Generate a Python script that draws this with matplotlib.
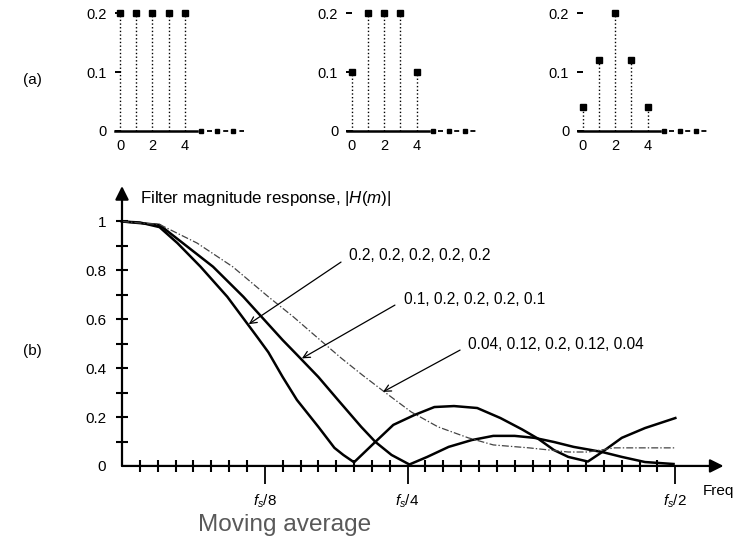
"""Moving-average filter coefficients and their magnitude responses."""

import numpy as np
import matplotlib.pyplot as plt

plt.rcParams['font.family'] = ['Liberation Sans', 'DejaVu Sans']
plt.rcParams['mathtext.fontset'] = 'custom'
plt.rcParams['mathtext.rm'] = 'Liberation Sans'
plt.rcParams['mathtext.it'] = 'Liberation Sans:italic'
plt.rcParams['lines.scale_dashes'] = False

# (a) filter coefficients, n = 0..4, then zeros
taps = [0, 1, 2, 3, 4]
tail = [5, 6, 7]
coef_rect = [0.2, 0.2, 0.2, 0.2, 0.2]
coef_taper = [0.1, 0.2, 0.2, 0.2, 0.1]
coef_gauss = [0.04, 0.12, 0.2, 0.12, 0.04]

# (b) magnitude responses
# x is in axis tick units: 8 ticks = fs/8, 16 = fs/4, 31 = fs/2 (as drawn)
freq_rect = [0, 1.0, 2.1, 3.1, 4.4, 5.9, 7.6, 8.2, 9.0, 9.8, 11.0, 11.9, 12.4,
             13.0, 14.2, 15.2, 16.4, 17.5, 18.6, 19.9, 21.2, 22.4, 23.3, 24.2,
             25.0, 26.1, 26.9, 28.0, 29.3, 31.0]
mag_rect = [1.0, 0.996, 0.977, 0.912, 0.815, 0.692, 0.525, 0.465, 0.364, 0.270,
            0.160, 0.074, 0.045, 0.015, 0.099, 0.168, 0.209, 0.241, 0.245, 0.237,
            0.196, 0.150, 0.112, 0.065, 0.037, 0.018, 0.057, 0.115, 0.155, 0.196]

freq_taper = [0, 2.1, 3.4, 5.1, 6.8, 9.0, 9.8, 11.0, 12.1, 13.4, 14.2, 15.1,
              16.1, 17.1, 18.3, 19.6, 20.8, 22.0, 23.1, 24.2, 25.3, 26.3, 26.9,
              28.0, 29.3, 30.9]
mag_taper = [1.0, 0.986, 0.912, 0.815, 0.692, 0.515, 0.455, 0.364, 0.270, 0.160,
             0.098, 0.045, 0.006, 0.037, 0.078, 0.106, 0.123, 0.123, 0.115, 0.098,
             0.078, 0.065, 0.057, 0.037, 0.016, 0.008]

freq_gauss = [0, 2.1, 4.2, 6.2, 8.2, 9.6, 11.1, 12.3, 13.5, 14.7, 16.2, 17.7,
              19.4, 20.8, 22.8, 25.0, 26.1, 27.6, 29.5, 31.0]
mag_gauss = [1.0, 0.988, 0.912, 0.815, 0.692, 0.610, 0.515, 0.440, 0.370, 0.303,
             0.221, 0.160, 0.115, 0.086, 0.074, 0.057, 0.057, 0.074, 0.074, 0.074]

fig = plt.figure(figsize=(7.44, 5.38), dpi=100)

# ---- (a) three stem plots ----
for left_px, coefs in zip([103.8, 335.5, 566.5], [coef_rect, coef_taper, coef_gauss]):
    ax = fig.add_axes([left_px / 744, 0.746, 145.8 / 744, 0.2454])
    ax.set_xlim(-1, 8)
    ax.set_ylim(-0.01, 0.215)
    ax.patch.set_alpha(0)
    ax.vlines(taps, 0, coefs, colors='k', linestyles=':', lw=1.0)
    ax.plot(taps, coefs, 'ks', ms=4.5)
    ax.plot([-0.3, 4.75], [0, 0], 'k-', lw=1.8)
    ax.plot(tail, np.zeros(len(tail)), 'ks', ms=3.5)
    ax.plot([5.35, 7.65], [0, 0], color='k', lw=1.3, ls=(0, (3.6, 8.06)))
    for s in ax.spines.values():
        s.set_visible(False)
    ax.spines['left'].set_position(('data', -0.15))
    ax.set_yticks([0, 0.1, 0.2], ['0', '0.1', '0.2'])
    ax.tick_params(axis='y', direction='inout', length=4, width=1.4, pad=6,
                   labelsize=10.5)
    ax.set_xticks([0, 2, 4])
    ax.tick_params(axis='x', length=0, pad=1.5, labelsize=10.5)

fig.text(0.043, 0.851, '(a)', fontsize=11, ha='center', va='center')
fig.text(0.043, 0.348, '(b)', fontsize=11, ha='center', va='center')

# ---- (b) magnitude response ----
axm = fig.add_axes([0.1160, 0.0794, 0.8637, 0.5816])
axm.set_xlim(-2, 34)
axm.set_ylim(-0.12, 1.16)
axm.patch.set_alpha(0)

axm.plot(freq_rect, mag_rect, color='k', lw=1.8)
axm.plot(freq_taper, mag_taper, color='k', lw=1.8)
axm.plot(freq_gauss, mag_gauss, color='#444444', lw=0.9,
         ls=(0, (5, 1.5, 1, 1.5)))

for s in axm.spines.values():
    s.set_visible(False)
axm.spines['left'].set_position(('data', 0))
axm.spines['bottom'].set_position(('data', 0))

arrow_kw = dict(arrowstyle='-|>', color='k', lw=1.6, mutation_scale=20,
                shrinkA=0, shrinkB=0)
axm.annotate('', xy=(33.7, 0), xytext=(0, 0), arrowprops=arrow_kw)
axm.annotate('', xy=(0, 1.145), xytext=(0, 0), arrowprops=arrow_kw)

axm.set_xticks(range(1, 31), minor=True)
axm.set_xticks([8, 16, 31], [r'$f_s$/8', r'$f_s$/4', r'$f_s$/2'])
axm.tick_params(axis='x', which='minor', direction='inout', length=8, width=1.5)
axm.tick_params(axis='x', which='major', direction='out', length=13, width=1.3,
                pad=6, labelsize=11)

ylabels = ['0', '', '0.2', '', '0.4', '', '0.6', '', '0.8', '', '1']
axm.set_yticks(np.arange(0, 1.01, 0.1), ylabels)
axm.tick_params(axis='y', direction='inout', length=9, width=1.5, pad=7,
                labelsize=11)
axm.yaxis.get_major_ticks()[0].tick1line.set_visible(False)

axm.text(1.0, 1.096, 'Filter magnitude response, $|H(m)|$', fontsize=12.2,
         va='center')
axm.text(32.55, -0.102, 'Freq', fontsize=11, va='center')

arrow_small = dict(arrowstyle='->', color='k', lw=0.9, mutation_scale=12,
                   shrinkA=0, shrinkB=0)
labels = ['0.2, 0.2, 0.2, 0.2, 0.2', '0.1, 0.2, 0.2, 0.2, 0.1',
          '0.04, 0.12, 0.2, 0.12, 0.04']
label_xy = [(12.72, 0.859), (15.8, 0.679), (19.38, 0.495)]
arrow_from = [(12.27, 0.834), (15.29, 0.658), (18.94, 0.474)]
arrow_to = [(7.1, 0.58), (10.08, 0.44), (14.62, 0.303)]
for txt, (tx, ty), a0, a1 in zip(labels, label_xy, arrow_from, arrow_to):
    axm.text(tx, ty, txt, fontsize=11.2, va='center')
    axm.annotate('', xy=a1, xytext=a0, arrowprops=arrow_small)

fig.text(0.266, 0.013, 'Moving average', fontsize=17.6, color='#595959',
         va='baseline')

fig.savefig('out.png', dpi=100)
